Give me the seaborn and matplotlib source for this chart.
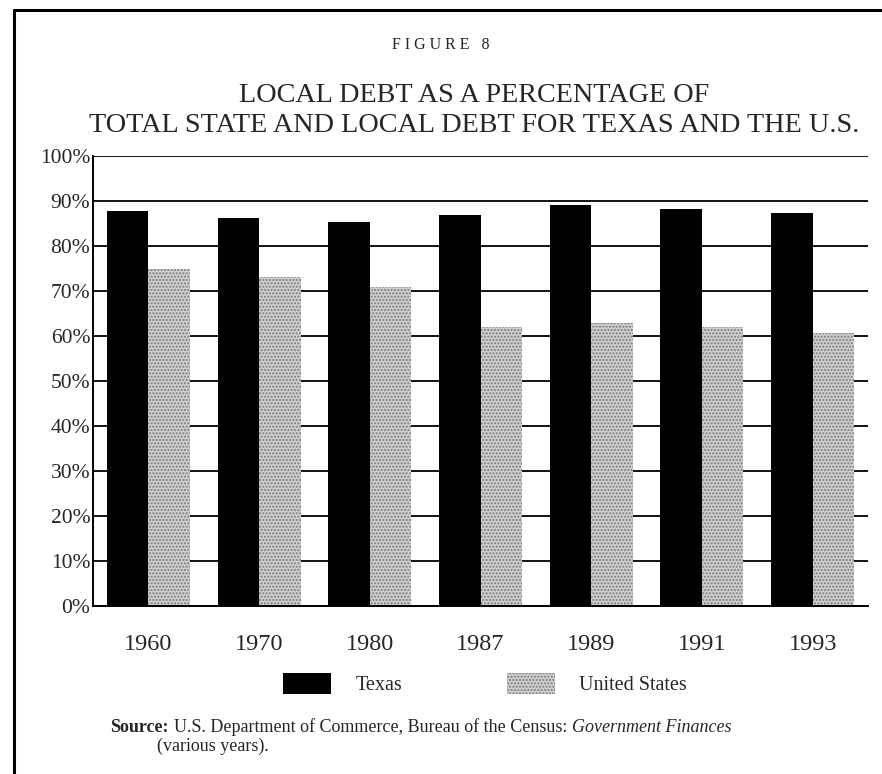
import pandas as pd
import numpy as np
import matplotlib.pyplot as plt
import seaborn as sns
from matplotlib.lines import Line2D

years = ['1960', '1970', '1980', '1987', '1989', '1991', '1993']
texas = [87.8, 86.3, 85.4, 86.9, 89.0, 88.2, 87.3]
united_states = [74.8, 73.0, 70.8, 62.1, 62.8, 62.1, 60.7]
series_names = ['Texas', 'United States']
y_ticks = [0, 10, 20, 30, 40, 50, 60, 70, 80, 90, 100]

df = pd.DataFrame({
    'year': years * 2,
    'share': texas + united_states,
    'region': [series_names[0]] * len(years) + [series_names[1]] * len(years),
})

sns.set_style('white')
plt.rcParams['font.family'] = ['Liberation Serif', 'DejaVu Serif']
plt.rcParams['hatch.linewidth'] = 1.0

fig = plt.figure(figsize=(8.82, 7.74), dpi=100)
ax = fig.add_axes([93 / 882, 1 - 606 / 774, (868 - 93) / 882, (606 - 156) / 774])

sns.barplot(data=df, x='year', y='share', hue='region', order=years,
            hue_order=series_names, palette=['black', '#cfcfcf'],
            width=0.75, gap=0, saturation=1, linewidth=0, ax=ax)

# stipple pattern on the US bars
n = len(years)
for p in ax.patches[n:2 * n]:
    p.set_hatch('.....')
    p.set_edgecolor('#7a7a7a')
    p.set_linewidth(0)

ax.set_ylim(0, 100)
ax.set_xlim(-0.5, n - 0.5)
ax.set_yticks(y_ticks)
ax.set_yticklabels([f'{t}%' for t in y_ticks], fontsize=15.5)
ax.tick_params(axis='y', length=0, pad=2)
ax.tick_params(axis='x', length=0, pad=20, labelsize=17.5)
ax.set_xlabel('')
ax.set_ylabel('')
ax.set_axisbelow(True)
ax.yaxis.grid(True, color='black', linewidth=1.3)
ax.xaxis.grid(False)
for s in ['top', 'right']:
    ax.spines[s].set_visible(False)
for s in ['left', 'bottom']:
    ax.spines[s].set_color('black')
    ax.spines[s].set_linewidth(1.4)

# legend under the years
handles, labels = ax.get_legend_handles_labels()
ax.get_legend().remove()
handles[1].set_hatch('.....')
handles[1].set_edgecolor('#7a7a7a')
handles[1].set_linewidth(0)
fig.legend(handles, labels, loc='center', bbox_to_anchor=(0.55, 1 - 684 / 774),
           ncol=2, frameon=False, fontsize=14.5, handlelength=2.4,
           handleheight=1.2, handletextpad=1.2, columnspacing=5.2)

fig.text(0.5, 1 - 45 / 774, 'F I G U R E   8', ha='center', va='center', fontsize=11.5)
fig.text(0.538, 1 - 96 / 774, 'LOCAL DEBT AS A PERCENTAGE OF', ha='center',
         va='center', fontsize=20.3)
fig.text(0.538, 1 - 126 / 774, 'TOTAL STATE AND LOCAL DEBT FOR TEXAS AND THE U.S.',
         ha='center', va='center', fontsize=20.3)

# source line with mixed styles
renderer = fig.canvas.get_renderer()
x0 = 110 / 882
y0 = 1 - 727 / 774
t = fig.text(x0, y0, 'Source:', fontsize=13, fontweight='bold', va='center')
w = t.get_window_extent(renderer).width / fig.bbox.width
t2 = fig.text(x0 + w + 0.006, y0,
              'U.S. Department of Commerce, Bureau of the Census: ',
              fontsize=13, va='center')
w2 = t2.get_window_extent(renderer).width / fig.bbox.width
fig.text(x0 + w + 0.006 + w2, y0, 'Government Finances', fontsize=13,
         style='italic', va='center')
fig.text(157 / 882, 1 - 746 / 774, '(various years).', fontsize=13, va='center')

# page border
fig.add_artist(Line2D([14 / 882, 1], [1 - 10 / 774, 1 - 10 / 774], color='black', linewidth=2.2))
fig.add_artist(Line2D([14 / 882, 14 / 882], [0, 1 - 10 / 774], color='black', linewidth=2.2))

fig.savefig('out.png', dpi=100)
